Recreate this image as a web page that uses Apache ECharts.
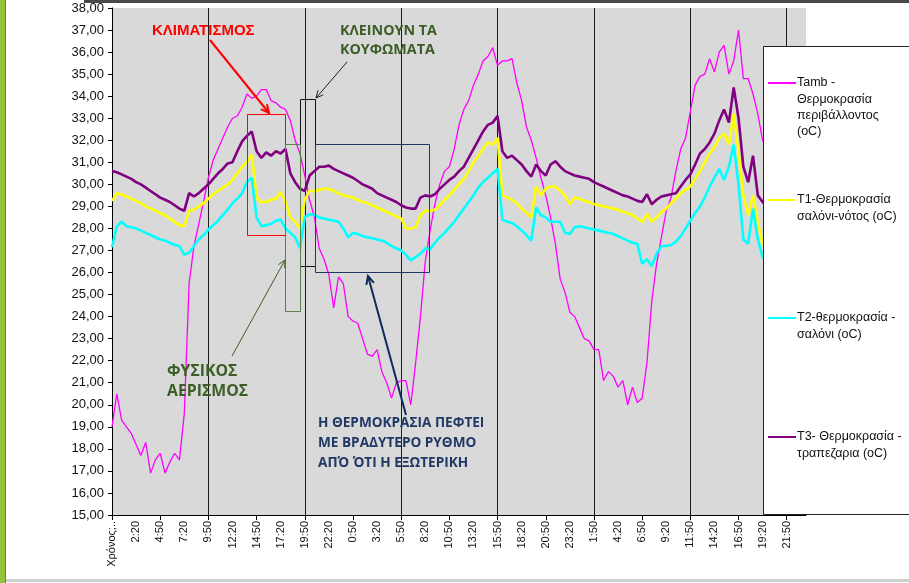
<!DOCTYPE html>
<html>
<head>
<meta charset="utf-8">
<script src="https://cdn.jsdelivr.net/npm/echarts@6/dist/echarts.min.js"></script>
<style>
html,body{margin:0;padding:0;background:#fff;}
#chart{width:909px;height:583px;}
</style>
</head>
<body>
<div id="chart"></div>
<script>
// ---- data (30-minute steps, first category is the sheet header) ----
const firstLabel = "Χρόνος;..";
const startMinutes = 23 * 60 + 50;   // time of the header slot
const stepMinutes = 30;

const tamb = [
 19.0,20.5,19.3,19.0,18.7,18.2,17.7,18.3,16.9,17.5,
 17.8,16.9,17.4,17.8,17.5,19.6,25.5,27.2,28.2,29.2,
 30.3,31.1,31.6,32.1,32.6,33.0,33.1,33.5,34.1,33.9,
 34.0,34.3,34.3,33.8,33.7,33.5,33.4,32.9,32.0,31.4,
 30.4,29.3,28.5,27.1,26.6,25.9,24.4,25.8,25.5,24.0,
 23.8,23.7,23.0,22.3,22.2,22.5,21.5,21.0,20.3,21.0,
 21.1,21.1,20.0,21.9,24.0,26.5,27.9,29.1,30.0,30.6,
 30.8,31.6,32.7,33.4,33.8,34.5,35.0,35.6,35.8,36.2,
 35.4,35.6,35.6,35.7,34.6,33.8,32.6,32.0,31.2,30.3,
 29.5,28.5,27.3,25.7,25.1,24.2,24.0,23.5,23.0,22.9,
 22.5,22.5,21.1,21.5,21.3,20.8,21.1,20.0,20.8,20.1,
 20.3,21.9,24.7,26.4,27.6,28.8,29.4,30.6,31.6,32.1,
 33.3,34.5,34.9,35.0,35.7,35.1,36.0,36.3,35.0,35.6,
 37.0,34.8,34.8,34.1,33.2,32.0,31.6,31.1,30.4,30.1,
 29.6,29.0,28.7,28.1,27.6
];
const t1 = [
 29.25,29.6,29.55,29.45,29.35,29.25,29.15,29.0,28.9,28.8,
 28.7,28.6,28.45,28.3,28.15,28.1,28.8,28.85,29.0,29.15,
 29.35,29.55,29.7,29.85,30.0,30.2,30.5,30.8,31.0,31.35,
 29.4,29.2,29.2,29.3,29.35,29.65,29.2,28.5,28.3,28.0,
 29.3,29.7,29.7,29.75,29.8,29.8,29.7,29.6,29.5,29.45,
 29.4,29.3,29.2,29.15,29.05,28.95,28.85,28.75,28.65,28.55,
 28.45,28.0,28.0,28.05,28.6,28.8,28.8,28.85,29.05,29.3,
 29.5,29.75,30.0,30.25,30.6,31.0,31.3,31.6,31.9,31.8,
 32.1,29.5,29.4,29.3,29.15,28.9,28.7,28.5,29.9,29.5,
 29.8,29.9,29.9,29.7,29.5,29.1,29.4,29.35,29.25,29.2,
 29.1,29.05,29.0,28.95,28.9,28.85,28.75,28.7,28.6,28.45,
 28.3,28.65,28.3,28.5,28.75,28.9,29.15,29.35,29.6,29.75,
 29.9,30.25,30.6,31.0,31.4,31.7,32.1,32.3,31.8,33.2,
 31.5,29.5,28.6,29.5,28.3,27.3,27.1,27.0,26.9,26.9,
 26.8,26.7,26.7,26.6,26.5
];
const t2 = [
 27.15,28.1,28.3,28.1,28.05,28.0,27.9,27.8,27.7,27.6,
 27.5,27.45,27.35,27.25,27.2,26.8,26.9,27.2,27.5,27.7,
 27.95,28.15,28.35,28.6,28.85,29.15,29.35,29.6,30.1,30.3,
 28.5,28.1,28.15,28.2,28.35,28.4,28.0,27.8,27.6,27.1,
 28.5,28.65,28.6,28.5,28.45,28.4,28.35,28.3,28.0,27.6,
 27.8,27.75,27.65,27.6,27.55,27.5,27.45,27.35,27.2,27.1,
 27.0,26.8,26.55,26.7,26.85,27.1,27.05,27.35,27.6,27.8,
 28.05,28.3,28.6,28.9,29.2,29.5,29.85,30.1,30.3,30.5,
 30.7,28.4,28.3,28.25,28.1,27.9,27.7,27.45,28.95,28.6,
 28.5,28.3,28.3,28.3,27.8,27.75,28.05,28.1,28.05,28.0,
 27.95,27.9,27.85,27.8,27.75,27.65,27.55,27.45,27.35,27.3,
 26.4,26.6,26.3,26.85,27.2,27.2,27.25,27.4,27.65,28.0,
 28.35,28.7,29.0,29.4,29.9,30.3,30.7,30.2,30.8,31.8,
 30.0,27.5,27.3,28.9,27.5,26.7,26.6,26.5,26.4,26.4,
 26.3,26.2,26.2,26.1,26.0
];
const t3 = [
 30.6,30.55,30.45,30.35,30.25,30.1,30.0,29.85,29.7,29.55,
 29.4,29.3,29.2,29.05,28.9,28.8,29.6,29.45,29.6,29.8,
 30.0,30.25,30.5,30.7,30.95,31.0,31.5,31.95,32.2,32.4,
 31.5,31.2,31.45,31.3,31.5,31.4,31.6,30.5,30.1,29.8,
 29.7,30.4,30.6,30.8,30.8,30.85,30.7,30.6,30.5,30.4,
 30.3,30.15,30.0,29.9,29.8,29.6,29.5,29.4,29.3,29.2,
 29.05,28.95,28.9,28.9,29.4,29.5,29.45,29.55,29.8,30.0,
 30.2,30.35,30.6,30.8,31.2,31.6,32.0,32.4,32.7,32.8,
 33.1,31.5,31.2,31.3,31.1,30.9,30.6,30.35,30.9,30.6,
 30.4,30.9,31.05,30.8,30.6,30.5,30.4,30.35,30.3,30.25,
 30.1,30.0,29.9,29.8,29.7,29.6,29.5,29.45,29.35,29.25,
 29.2,29.55,29.1,29.3,29.45,29.5,29.55,29.6,29.9,30.2,
 30.45,30.9,31.4,31.6,31.9,32.3,32.9,33.4,32.8,34.4,
 33.0,30.8,30.1,31.3,29.5,29.2,29.0,28.9,28.8,28.8,
 28.7,28.6,28.6,28.5,28.4
];

const seriesNames = [
 ["Tamb -", "Θερμοκρασία", "περιβάλλοντος", "(oC)"],
 ["T1-Θερμοκρασία", "σαλόνι-νότος (oC)"],
 ["T2-θερμοκρασία -", "σαλόνι (oC)"],
 ["T3- Θερμοκρασία -", "τραπεζαρια (oC)"]
];
const seriesColors = ["#ff00ff", "#ffff00", "#00ffff", "#800080"];
const seriesWidths = [1.3, 2.6, 2.6, 2.6];
const seriesData = [tamb, t1, t2, t3];

// categories: header slot then 30-minute times
const categories = [];
for (let k = 0; k < tamb.length; k++) {
  if (k === 0) { categories.push(firstLabel); continue; }
  const m = (startMinutes + k * stepMinutes) % 1440;
  const h = Math.floor(m / 60), mm = m % 60;
  categories.push(h + ":" + (mm < 10 ? "0" : "") + mm);
}

// ---- helpers for annotation graphics ----
function arrow(x1, y1, x2, y2, color, w, size) {
  const a = Math.atan2(y2 - y1, x2 - x1), s = 0.45;
  const p1 = [x2 - size * Math.cos(a - s), y2 - size * Math.sin(a - s)];
  const p2 = [x2 - size * Math.cos(a + s), y2 - size * Math.sin(a + s)];
  return [
    {type: 'line', z: 100, shape: {x1, y1, x2, y2}, style: {stroke: color, lineWidth: w}},
    {type: 'polyline', z: 100, shape: {points: [p1, [x2, y2], p2]}, style: {stroke: color, lineWidth: w, fill: null}}
  ];
}
function box(x, y, w, h, color, lw) {
  return {type: 'rect', z: 100, shape: {x, y, width: w, height: h},
          style: {fill: null, stroke: color, lineWidth: lw || 1}};
}
function txt(x, y, t, color, font) {
  return {type: 'text', z: 101, x, y,
          style: {text: t, fill: color, font: font, textAlign: 'left', textVerticalAlign: 'middle'}};
}

const green = "#3b5e26";
const navy = "#1f3864";
const g = [];
// frame decorations
g.push({type: 'rect', z: 0, shape: {x: 0, y: 0, width: 5, height: 583}, style: {fill: '#93c23b'}});
g.push({type: 'rect', z: 0, shape: {x: 5, y: 0, width: 1, height: 583}, style: {fill: '#6a7f35'}});
g.push({type: 'rect', z: 0, shape: {x: 84, y: 0, width: 825, height: 3}, style: {fill: '#4a4a4a'}});
g.push({type: 'rect', z: 0, shape: {x: 6, y: 579, width: 903, height: 3}, style: {fill: '#cfcfcf'}});

// legend box
g.push({type: 'rect', z: 90, shape: {x: 763.5, y: 46.5, width: 160, height: 468},
        style: {fill: '#ffffff', stroke: '#222', lineWidth: 1}});
const legendY = [83, 200, 318, 437];
const legFont = '12.5px "Liberation Sans", Arial, sans-serif';
for (let i = 0; i < 4; i++) {
  g.push({type: 'line', z: 95, shape: {x1: 768, y1: legendY[i], x2: 796, y2: legendY[i]},
          style: {stroke: seriesColors[i], lineWidth: 2}});
  seriesNames[i].forEach((ln, j) => g.push(txt(797, legendY[i] + j * 16.3, ln, '#111', legFont)));
}

// annotations
g.push(txt(152, 31, "ΚΛΙΜΑΤΙΣΜΟΣ", '#ff0000', 'bold 15px "Liberation Sans", Arial, sans-serif'));
g.push(...arrow(210, 40, 269, 113, '#ff0000', 2, 9));
g.push(box(247.5, 114.5, 38, 121, '#ff0000', 1));

g.push(txt(340, 31, "ΚΛΕΙΝΟΥΝ ΤΑ", green, 'bold 14.3px "Open Sans", sans-serif'));
g.push(txt(340, 50, "ΚΟΥΦΩΜΑΤΑ", green, 'bold 14.3px "Open Sans", sans-serif'));
g.push(...arrow(347, 62, 316, 98, '#222', 1, 8));
g.push(box(300.5, 99.5, 15, 167, '#111', 1));

g.push(box(285.5, 144.5, 15, 167, '#5b7f45', 1));
g.push(...arrow(232, 356, 285, 260, '#3b5e26', 1, 8));
g.push(txt(167, 371, "ΦΥΣΙΚΟΣ", green, 'bold 15.8px "Open Sans", sans-serif'));
g.push(txt(167, 391, "ΑΕΡΙΣΜΟΣ", green, 'bold 15.8px "Open Sans", sans-serif'));

g.push(box(315.5, 144.5, 114, 128, navy, 1));
g.push(...arrow(406, 415, 368, 276, '#0f2b5c', 2, 9));
const navyFont = 'bold 13.6px "Open Sans", sans-serif';
g.push(txt(318, 423, "Η ΘΕΡΜΟΚΡΑΣΙΑ ΠΕΦΤΕΙ", navy, navyFont));
g.push(txt(318, 443, "ΜΕ ΒΡΑΔΥΤΕΡΟ ΡΥΘΜΟ", navy, navyFont));
g.push(txt(318, 463, "ΑΠΌ ΌΤΙ Η ΕΞΩΤΕΡΙΚΗ", navy, navyFont));

const chart = echarts.init(document.getElementById('chart'), null, {renderer: 'canvas'});
chart.setOption({
  animation: false,
  backgroundColor: '#ffffff',
  grid: {left: 112, right: 103, top: 8, bottom: 68, show: true, backgroundColor: '#d9d9d9', borderWidth: 0},
  xAxis: {
    type: 'category', data: categories, boundaryGap: false,
    axisLine: {lineStyle: {color: '#000', width: 1}},
    axisTick: {show: true, length: 5, interval: (i) => i % 10 === 0, lineStyle: {color: '#000'}},
    axisLabel: {interval: (i) => i % 5 === 0, rotate: 90, fontSize: 11, color: '#111',
                fontFamily: '"Liberation Sans", Arial, sans-serif', margin: 6},
    splitLine: {show: true, interval: (i) => i > 0 && i % 20 === 0, lineStyle: {color: '#1a1a1a', width: 1}}
  },
  yAxis: {
    type: 'value', min: 15, max: 38, interval: 1,
    axisLine: {show: true, lineStyle: {color: '#000', width: 1}},
    axisTick: {show: true, length: 4, lineStyle: {color: '#000'}},
    axisLabel: {fontSize: 13, color: '#111', fontFamily: '"Liberation Sans", Arial, sans-serif', margin: 8,
                formatter: (v) => v.toFixed(2).replace('.', ',')},
    splitLine: {show: false}
  },
  series: seriesData.map((d, i) => ({
    name: seriesNames[i].join(' '), type: 'line', data: d, showSymbol: false, symbol: 'none',
    z: 2 + i, lineStyle: {color: seriesColors[i], width: seriesWidths[i]}, itemStyle: {color: seriesColors[i]}
  })),
  graphic: {elements: g}
});
</script>
</body>
</html>
